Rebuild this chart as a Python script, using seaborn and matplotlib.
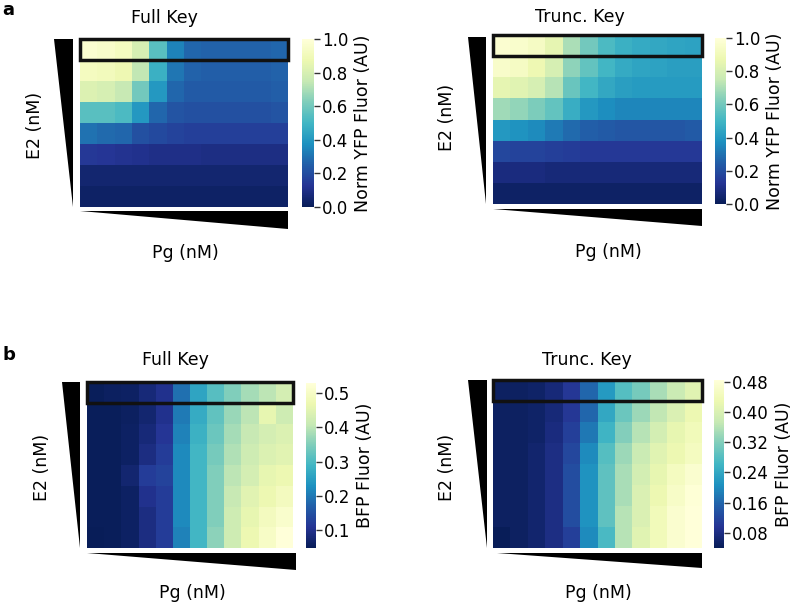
import matplotlib
matplotlib.use('Agg')
import matplotlib.pyplot as plt
import numpy as np
import seaborn as sns
from matplotlib.patches import Rectangle

# rows: E2 high (top) -> low (bottom); columns: Pg low (left) -> high (right)
yfp_full = [
    [0.97, 0.95, 0.92, 0.80, 0.55, 0.34, 0.27, 0.26, 0.26, 0.26, 0.26, 0.27],
    [0.92, 0.91, 0.88, 0.74, 0.48, 0.31, 0.26, 0.25, 0.25, 0.25, 0.25, 0.26],
    [0.82, 0.80, 0.75, 0.60, 0.40, 0.27, 0.24, 0.24, 0.24, 0.24, 0.24, 0.25],
    [0.55, 0.55, 0.52, 0.40, 0.27, 0.22, 0.21, 0.21, 0.21, 0.21, 0.21, 0.22],
    [0.30, 0.28, 0.27, 0.21, 0.19, 0.17, 0.16, 0.16, 0.16, 0.16, 0.16, 0.16],
    [0.14, 0.13, 0.12, 0.11, 0.10, 0.10, 0.10, 0.09, 0.09, 0.09, 0.09, 0.09],
    [0.05, 0.05, 0.05, 0.05, 0.05, 0.05, 0.05, 0.05, 0.05, 0.05, 0.05, 0.05],
    [0.03, 0.03, 0.03, 0.03, 0.03, 0.03, 0.03, 0.03, 0.03, 0.03, 0.03, 0.03],
]
yfp_trunc = [
    [0.97, 0.96, 0.93, 0.85, 0.70, 0.60, 0.52, 0.48, 0.46, 0.45, 0.44, 0.43],
    [0.95, 0.93, 0.88, 0.80, 0.65, 0.57, 0.50, 0.46, 0.44, 0.43, 0.42, 0.42],
    [0.85, 0.83, 0.80, 0.72, 0.58, 0.50, 0.45, 0.42, 0.41, 0.41, 0.41, 0.41],
    [0.68, 0.66, 0.62, 0.57, 0.47, 0.40, 0.37, 0.35, 0.35, 0.35, 0.35, 0.35],
    [0.40, 0.38, 0.36, 0.32, 0.28, 0.25, 0.24, 0.23, 0.23, 0.23, 0.23, 0.24],
    [0.18, 0.17, 0.17, 0.16, 0.15, 0.14, 0.14, 0.14, 0.14, 0.14, 0.14, 0.14],
    [0.08, 0.08, 0.08, 0.07, 0.07, 0.07, 0.07, 0.07, 0.07, 0.07, 0.07, 0.07],
    [0.03, 0.03, 0.03, 0.03, 0.03, 0.03, 0.03, 0.03, 0.03, 0.03, 0.03, 0.03],
]
bfp_full = [
    [0.050, 0.055, 0.060, 0.080, 0.100, 0.190, 0.260, 0.310, 0.350, 0.380, 0.400, 0.430],
    [0.050, 0.050, 0.055, 0.070, 0.100, 0.200, 0.270, 0.320, 0.370, 0.400, 0.460, 0.420],
    [0.050, 0.050, 0.060, 0.080, 0.110, 0.210, 0.280, 0.330, 0.380, 0.410, 0.430, 0.440],
    [0.050, 0.050, 0.060, 0.090, 0.120, 0.220, 0.290, 0.340, 0.390, 0.420, 0.440, 0.450],
    [0.050, 0.050, 0.070, 0.120, 0.130, 0.220, 0.290, 0.350, 0.400, 0.430, 0.460, 0.470],
    [0.050, 0.050, 0.060, 0.100, 0.120, 0.220, 0.290, 0.350, 0.410, 0.450, 0.470, 0.490],
    [0.050, 0.050, 0.060, 0.090, 0.120, 0.220, 0.290, 0.350, 0.420, 0.460, 0.490, 0.510],
    [0.047, 0.050, 0.060, 0.090, 0.120, 0.210, 0.290, 0.360, 0.420, 0.470, 0.500, 0.530],
]
bfp_trunc = [
    [0.050, 0.050, 0.055, 0.070, 0.100, 0.160, 0.220, 0.280, 0.310, 0.350, 0.380, 0.410],
    [0.050, 0.050, 0.055, 0.070, 0.100, 0.160, 0.240, 0.300, 0.340, 0.370, 0.400, 0.430],
    [0.050, 0.050, 0.055, 0.075, 0.110, 0.180, 0.260, 0.320, 0.360, 0.390, 0.420, 0.440],
    [0.050, 0.050, 0.060, 0.080, 0.120, 0.200, 0.280, 0.340, 0.380, 0.410, 0.430, 0.450],
    [0.050, 0.050, 0.060, 0.080, 0.130, 0.210, 0.290, 0.350, 0.390, 0.420, 0.450, 0.470],
    [0.050, 0.050, 0.060, 0.080, 0.130, 0.210, 0.290, 0.350, 0.400, 0.430, 0.460, 0.480],
    [0.050, 0.050, 0.060, 0.080, 0.130, 0.210, 0.290, 0.360, 0.400, 0.440, 0.470, 0.485],
    [0.040, 0.050, 0.060, 0.080, 0.110, 0.200, 0.270, 0.360, 0.410, 0.440, 0.470, 0.485],
]

yfp_ticks = [0.0, 0.2, 0.4, 0.6, 0.8, 1.0]
bfp_full_ticks = [0.1, 0.2, 0.3, 0.4, 0.5]
bfp_trunc_ticks = [0.08, 0.16, 0.24, 0.32, 0.40, 0.48]

W, H = 800, 606


def px_axes(fig, x0, y0, x1, y1):
    return fig.add_axes([x0 / W, 1 - y1 / H, (x1 - x0) / W, (y1 - y0) / H])


def draw_panel(fig, data, title, cbar_label, ticks, fmt, box, vmin=None, vmax=None):
    ax = px_axes(fig, *box['heat'])
    cax = px_axes(fig, *box['cbar'])
    sns.heatmap(np.array(data), ax=ax, cbar_ax=cax, cmap='YlGnBu_r',
                vmin=vmin, vmax=vmax, xticklabels=False, yticklabels=False,
                cbar_kws={'ticks': ticks, 'format': fmt})
    ax.tick_params(length=0)
    ax.add_patch(Rectangle((0, 0), 12, 1, fill=False, lw=2.5,
                           edgecolor='#111111', clip_on=False, zorder=5))
    cax.tick_params(labelsize=12, length=4, width=1, color='#333333', pad=2)
    cax.set_ylabel(cbar_label, fontsize=12.5, labelpad=4)
    for s in cax.spines.values():
        s.set_visible(False)

    # E2 wedge (wide at top)
    wax = px_axes(fig, *box['e2'])
    wax.fill([0, 1, 1], [1, 1, 0], color='black', lw=0)
    wax.set_xlim(0, 1)
    wax.set_ylim(0, 1)
    wax.axis('off')

    # Pg wedge (wide at right)
    pax = px_axes(fig, *box['pg'])
    pax.fill([0, 1, 1], [1, 1, 0], color='black', lw=0)
    pax.set_xlim(0, 1)
    pax.set_ylim(0, 1)
    pax.axis('off')

    tx, ty = box['title']
    fig.text(tx / W, 1 - ty / H, title, ha='center', va='center', fontsize=12.5)
    ex, ey = box['e2lab']
    fig.text(ex / W, 1 - ey / H, 'E2 (nM)', ha='center', va='center',
             rotation=90, fontsize=12.5)
    gx, gy = box['pglab']
    fig.text(gx / W, 1 - gy / H, 'Pg (nM)', ha='center', va='center', fontsize=12.5)


fig = plt.figure(figsize=(8, 6.06), dpi=100)

draw_panel(fig, yfp_full, 'Full Key', 'Norm YFP Fluor (AU)', yfp_ticks, '%.1f',
           {'heat': (80, 39, 288, 207), 'cbar': (302, 39, 314, 207),
            'e2': (54, 39, 73, 207), 'pg': (80, 211, 288, 229),
            'title': (164, 18), 'e2lab': (35, 125), 'pglab': (185, 253)},
           vmin=0, vmax=1)
draw_panel(fig, yfp_trunc, 'Trunc. Key', 'Norm YFP Fluor (AU)', yfp_ticks, '%.1f',
           {'heat': (493, 35, 702, 204), 'cbar': (715, 38, 726, 204),
            'e2': (468, 37, 486, 204), 'pg': (493, 209, 702, 226),
            'title': (580, 17), 'e2lab': (447, 117), 'pglab': (608, 252)},
           vmin=0, vmax=1)
draw_panel(fig, bfp_full, 'Full Key', 'BFP Fluor (AU)', bfp_full_ticks, '%.1f',
           {'heat': (87, 382, 293, 548), 'cbar': (306, 383, 316, 548),
            'e2': (62, 382, 80, 548), 'pg': (87, 553, 296, 570),
            'title': (175, 360), 'e2lab': (42, 467), 'pglab': (192, 593)})
draw_panel(fig, bfp_trunc, 'Trunc. Key', 'BFP Fluor (AU)', bfp_trunc_ticks, '%.2f',
           {'heat': (493, 380, 702, 548), 'cbar': (714, 380, 724, 548),
            'e2': (468, 380, 487, 548), 'pg': (497, 553, 702, 568),
            'title': (587, 360), 'e2lab': (447, 467), 'pglab': (598, 593)})

fig.text(2 / W, 1 - 10 / H, 'a', fontsize=13, fontweight='bold', ha='left', va='center')
fig.text(2 / W, 1 - 355 / H, 'b', fontsize=13, fontweight='bold', ha='left', va='center')

fig.savefig('out.png', dpi=100)
